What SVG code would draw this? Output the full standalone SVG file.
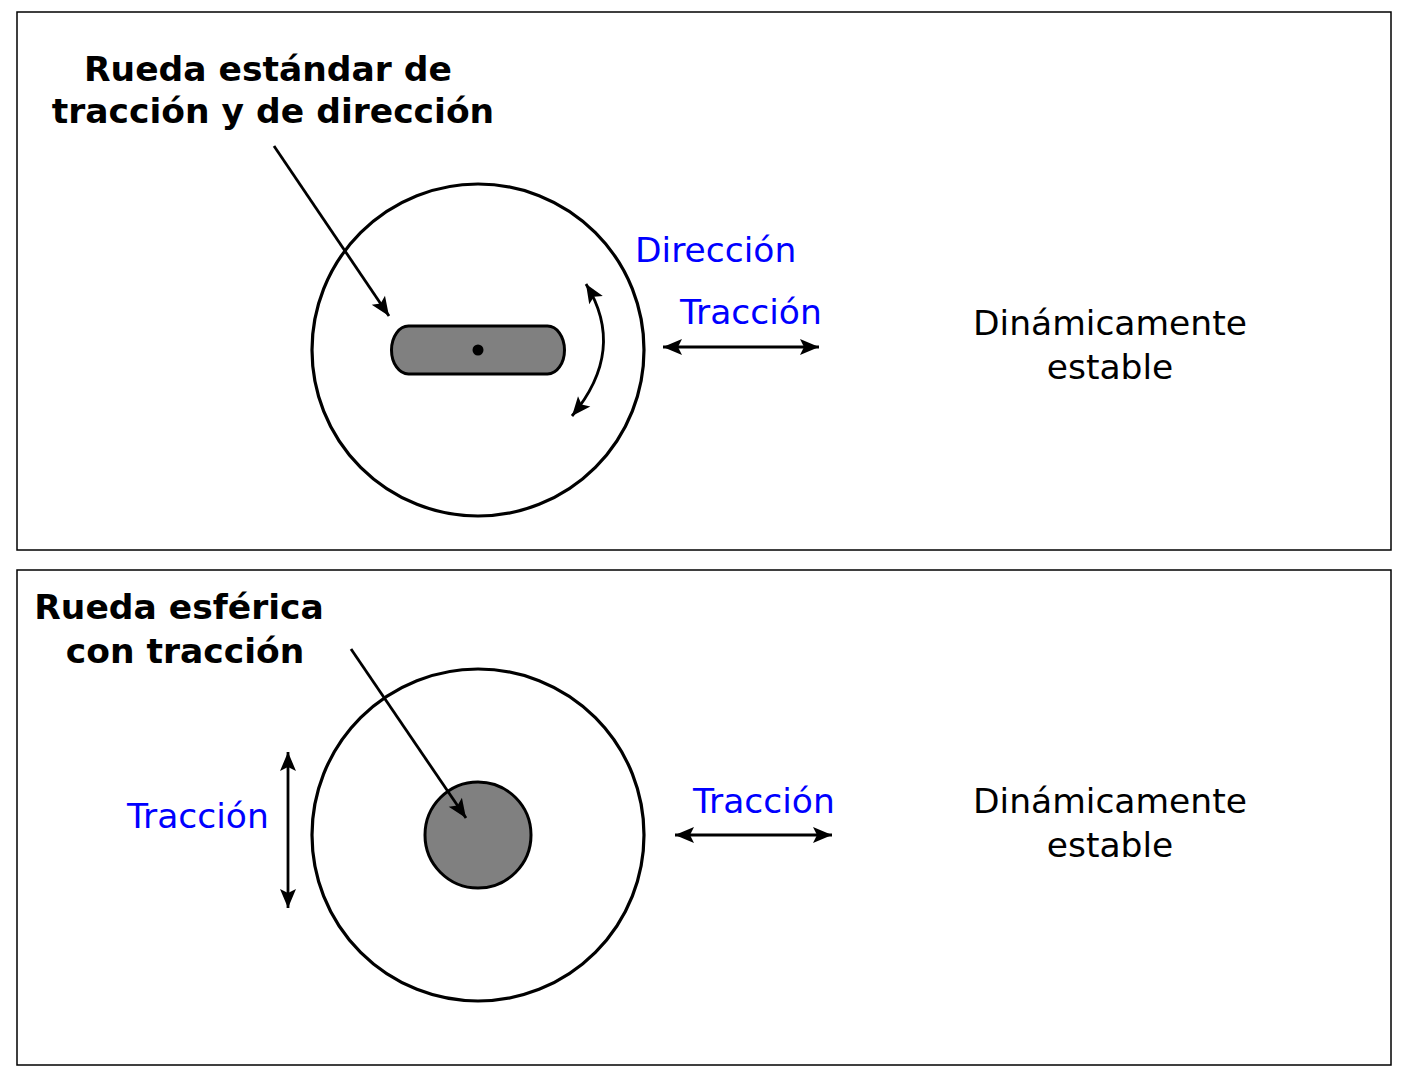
<svg xmlns="http://www.w3.org/2000/svg" width="1406" height="1084" viewBox="0 0 1406 1084">
<defs>
<style>
.frame{fill:#fff;stroke:#000;stroke-width:1.5}
.wheel{fill:none;stroke:#000;stroke-width:3.2}
.hub{fill:#808080;stroke:#000;stroke-width:3}
.arr{fill:none;stroke:#000;stroke-width:2.8}
.blue{font-family:"DejaVu Sans",sans-serif;font-size:34.5px;fill:#0000ff}
.lbl{font-family:"DejaVu Sans",sans-serif;font-size:34.5px;fill:#000}
.title{font-family:"DejaVu Sans",sans-serif;font-size:34.5px;font-weight:bold;fill:#000}
</style>
<marker id="ah" viewBox="-20 -9 21 18" refX="0" refY="0" markerWidth="21" markerHeight="18" markerUnits="userSpaceOnUse" orient="auto-start-reverse">
<path d="M0,0 L-19,-8 L-15,0 L-19,8 Z" fill="#000"/>
</marker>
</defs>
<rect width="1406" height="1084" fill="#fff"/>
<rect class="frame" x="17" y="12" width="1374" height="538"/>
<rect class="frame" x="17" y="570" width="1374" height="495"/>

<g id="top-wheel">
<circle class="wheel" cx="478" cy="350" r="166"/>
<rect class="hub" x="391.5" y="326" width="173" height="48" rx="17" ry="24"/>
<circle cx="478" cy="350" r="5.5" fill="#000"/>
</g>
<g id="top-title">
<text class="title" x="268" y="81" text-anchor="middle">Rueda estándar de</text>
<text class="title" x="273" y="123" text-anchor="middle">tracción y de dirección</text>
</g>
<g id="top-labels">
<text class="blue" x="635" y="262">Dirección</text>
<text class="blue" x="680" y="324">Tracción</text>
<text class="lbl" x="1110" y="335" text-anchor="middle">Dinámicamente</text>
<text class="lbl" x="1110" y="379" text-anchor="middle">estable</text>
</g>

<g id="bottom-wheel">
<circle class="wheel" cx="478" cy="835" r="166"/>
<circle class="hub" cx="478" cy="835" r="53" stroke-width="2.5"/>
</g>
<g id="bottom-title">
<text class="title" x="179" y="619" text-anchor="middle">Rueda esférica</text>
<text class="title" x="185" y="663" text-anchor="middle">con tracción</text>
</g>
<g id="bottom-labels">
<text class="blue" x="127" y="828">Tracción</text>
<text class="blue" x="693" y="813">Tracción</text>
<text class="lbl" x="1110" y="813" text-anchor="middle">Dinámicamente</text>
<text class="lbl" x="1110" y="857" text-anchor="middle">estable</text>
</g>

<g id="connectors">
<line class="arr" x1="274" y1="146" x2="389" y2="316" marker-end="url(#ah)"/>
<path class="arr" d="M586,284 Q627,350 572,416" marker-start="url(#ah)" marker-end="url(#ah)"/>
<line class="arr" x1="663" y1="347" x2="819" y2="347" marker-start="url(#ah)" marker-end="url(#ah)"/>
<line class="arr" x1="351" y1="649" x2="466" y2="818" marker-end="url(#ah)"/>
<line class="arr" x1="288" y1="752" x2="288" y2="908" marker-start="url(#ah)" marker-end="url(#ah)"/>
<line class="arr" x1="675" y1="835" x2="832" y2="835" marker-start="url(#ah)" marker-end="url(#ah)"/>
</g>
</svg>
